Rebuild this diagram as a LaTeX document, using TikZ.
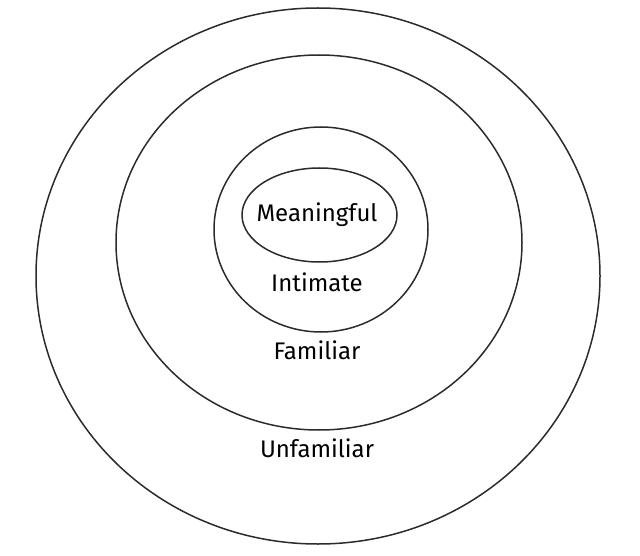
\documentclass[tikz,border=0pt]{standalone}
\usepackage{fontspec}
\setmainfont{Fira Sans}
\usepackage{tikz}
\usetikzlibrary{positioning}
\definecolor{ringline}{HTML}{2B2B2B}
\tikzset{ring/.style={draw=ringline, line width=1.5pt}, lab/.style={font=\fontsize{24}{28}\selectfont, text=black}}

\begin{document}
\begin{tikzpicture}[x=1pt, y=-1pt]
		\useasboundingbox (0,0) rectangle (640,556);
		\draw[ring] (318,276) ellipse [x radius=282, y radius=268];
		\draw[ring] (319,242.5) ellipse [x radius=203, y radius=187.5];
		\draw[ring] (321,229.5) ellipse [x radius=107, y radius=102.5];
		\draw[ring] (319.5,215) ellipse [x radius=77.5, y radius=47];
		\node[lab] (M) at (317,215) {Meaningful};
		\node[lab] (I) at (317,282) {Intimate};
		\node[lab] (F) at (317,350) {Familiar};
		\node[lab] (U) at (317,448) {Unfamiliar};
\end{tikzpicture}
\end{document}
